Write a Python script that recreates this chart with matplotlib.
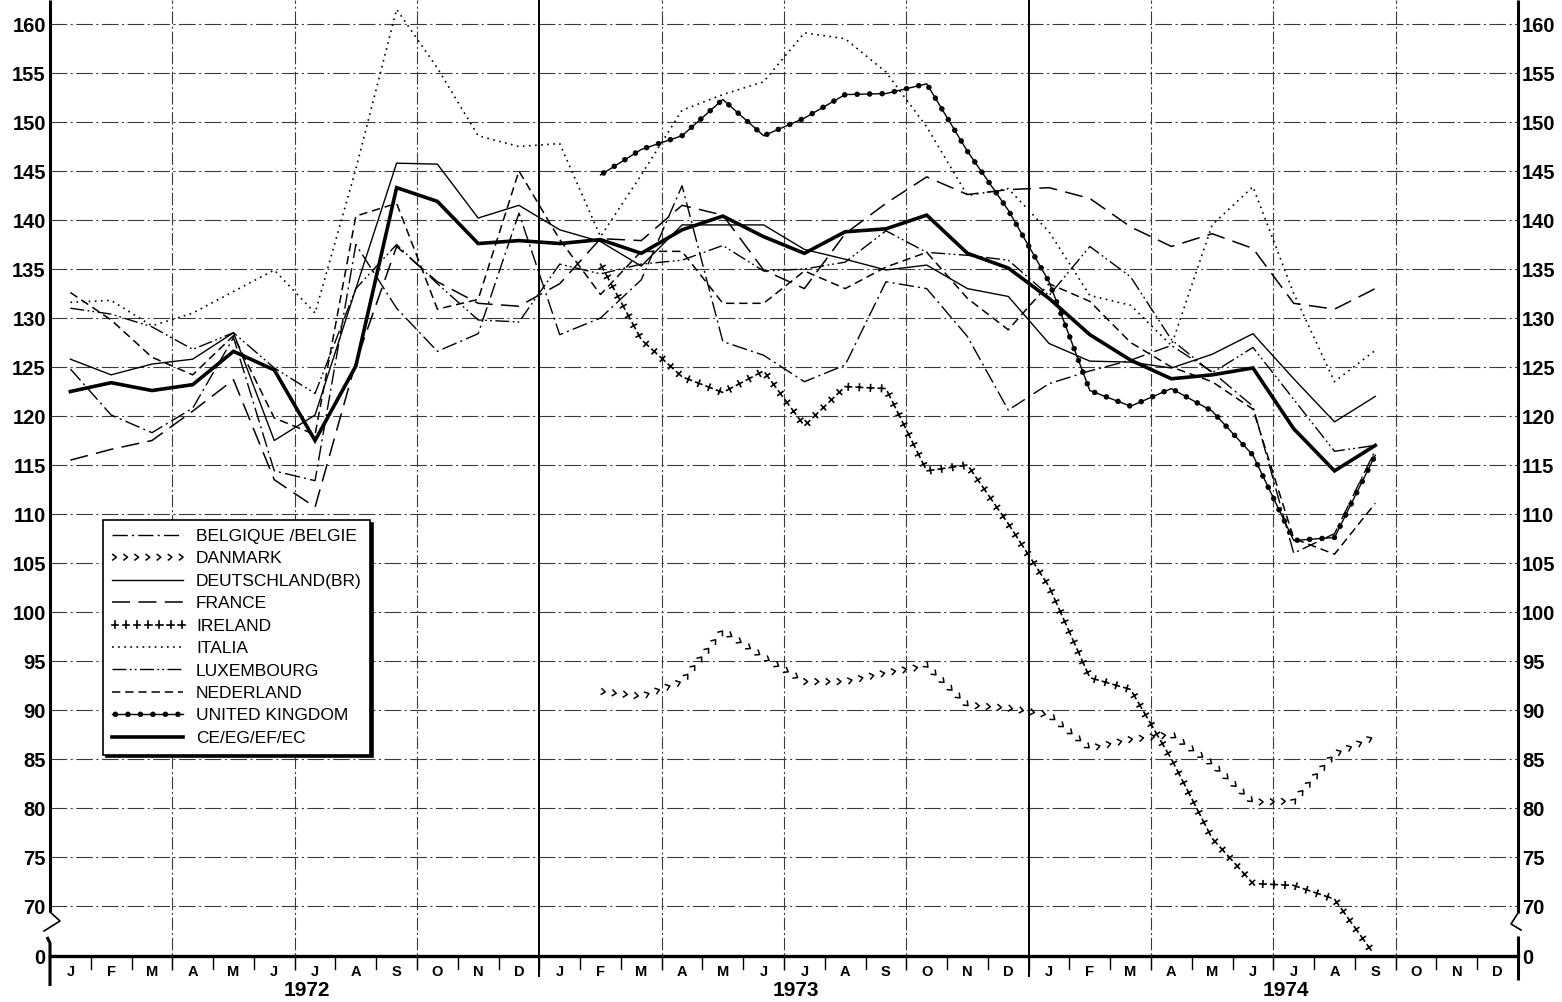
import numpy as np
import matplotlib
matplotlib.use('Agg')
import matplotlib.pyplot as plt
from matplotlib.patheffects import AbstractPathEffect, Normal
from matplotlib.path import Path
from matplotlib.transforms import Affine2D, blended_transform_factory

plt.rcParams['font.family'] = ['Liberation Sans', 'DejaVu Sans']
plt.rcParams['lines.scale_dashes'] = False

# ---------------- data (J 1972 ... S 1974) ----------------
month_letters = ['J', 'F', 'M', 'A', 'M', 'J', 'J', 'A', 'S', 'O', 'N', 'D']
year_labels = ['1972', '1973', '1974']
y_ticks = [0] + list(range(70, 161, 5))

ec = [122.5, 123.4, 122.6, 123.2, 126.6, 124.7, 117.5, 125.1, 143.3, 141.9, 137.6, 137.9,
      137.6, 138.0, 136.6, 139.0, 140.4, 138.3, 136.6, 138.8, 139.1, 140.5, 136.6, 135.1,
      132.0, 128.3, 125.7, 123.8, 124.2, 124.9, 118.7, 114.4, 117.0]
deutschland = [125.8, 124.2, 125.3, 125.8, 128.5, 117.5, 120.1, 133.0, 145.8, 145.7, 140.2, 141.5,
               139.0, 137.8, 135.3, 139.5, 139.5, 139.5, 137.0, 136.0, 134.9, 135.4, 133.0, 132.2,
               127.4, 125.6, 125.5, 124.9, 126.3, 128.4, 123.8, 119.4, 122.0]
france = [115.5, 116.6, 117.5, 120.5, 123.7, 113.5, 110.7, 125.5, 137.3, 133.7, 131.5, 131.2,
          133.5, 138.1, 137.9, 141.5, 140.5, 134.9, 133.0, 138.6, 141.7, 144.4, 142.6, 143.1,
          143.3, 142.2, 139.3, 137.3, 138.6, 137.1, 131.5, 130.9, 133.0]
italia = [131.6, 131.8, 129.2, 130.5, 132.7, 134.9, 130.5, 145.2, 161.5, 155.5, 148.6, 147.5,
          147.8, 138.3, 144.6, 151.2, 152.8, 154.1, 159.1, 158.5, 155.1, 149.5, 142.5, 143.2,
          138.8, 132.3, 131.3, 127.2, 139.5, 143.4, 132.5, 123.5, 126.7]
nederland = [132.6, 129.8, 126.0, 124.2, 128.2, 119.8, 118.1, 140.4, 141.7, 130.9, 131.9, 145.0,
             138.0, 132.4, 136.8, 136.8, 131.5, 131.5, 134.8, 133.0, 135.2, 136.7, 132.0, 128.8,
             133.5, 131.7, 127.5, 125.0, 123.5, 120.7, 107.5, 105.9, 111.1]
belgique = [124.8, 120.1, 118.3, 120.8, 128.0, 114.4, 113.4, 137.5, 131.0, 126.6, 128.4, 140.7,
            128.3, 130.0, 133.9, 143.5, 127.6, 126.2, 123.5, 125.2, 133.7, 133.0, 128.1, 120.6,
            123.3, 124.6, 125.7, 127.2, 124.5, 121.0, 106.0, 108.0, 116.5]
luxembourg = [131.0, 130.4, 129.1, 126.8, 128.5, 124.9, 122.3, 133.0, 137.5, 133.5, 129.8, 129.6,
              135.5, 134.5, 135.5, 135.9, 137.4, 134.8, 135.0, 135.7, 138.9, 136.7, 136.4, 135.9,
              132.3, 137.3, 134.2, 127.8, 124.4, 127.0, 121.7, 116.4, 117.0]
# series starting February 1973
uk = [144.6, 147.2, 148.6, 152.3, 148.6, 150.4, 152.8, 152.9, 153.9, 147.0, 141.0,
      133.7, 122.6, 121.0, 122.8, 120.5, 116.0, 107.3, 107.6, 116.0]
danmark = [91.9, 91.4, 92.9, 98.1, 95.4, 92.9, 92.9, 93.8, 94.5, 90.5, 90.2,
           89.5, 86.1, 87.0, 87.5, 84.5, 80.6, 80.7, 85.5, 87.3]
ireland = [135.5, 127.8, 124.0, 122.4, 124.6, 119.0, 123.0, 122.8, 114.4, 115.0, 109.0,
           102.6, 93.3, 92.1, 85.0, 76.9, 72.3, 72.1, 70.7, 0.0]
late_start = 13  # index of February 1973

# ---------------- helpers ----------------
class MarkersAlong(AbstractPathEffect):
    """Draw small glyphs at regular distances along the drawn line."""
    def __init__(self, kind, spacing, size, lw=1.0):
        super().__init__((0, 0))
        self.kind, self.spacing, self.size, self.lw = kind, spacing, size, lw

    def draw_path(self, renderer, gc, tpath, affine, rgbFace=None):
        pts = affine.transform(tpath.vertices)
        pts = pts[np.all(np.isfinite(pts), axis=1)]
        if len(pts) < 2:
            return
        dxy = np.diff(pts, axis=0)
        d = np.hypot(dxy[:, 0], dxy[:, 1])
        cum = np.concatenate([[0], np.cumsum(d)])
        sp = renderer.points_to_pixels(self.spacing)
        sz = renderer.points_to_pixels(self.size)
        s = np.arange(sp * 0.3, cum[-1] + 1e-6, sp)
        xs = np.interp(s, cum, pts[:, 0])
        ys = np.interp(s, cum, pts[:, 1])
        seg = np.clip(np.searchsorted(cum, s, side='right') - 1, 0, len(d) - 1)
        ang = np.arctan2(dxy[seg, 1], dxy[seg, 0])
        gc0 = renderer.new_gc()
        gc0.copy_properties(gc)
        gc0.set_dashes(0, None)
        gc0.set_linewidth(self.lw)
        if self.kind == 'plus':
            mp = Path([(-0.5, 0), (0.5, 0), (0, -0.5), (0, 0.5)],
                      [Path.MOVETO, Path.LINETO, Path.MOVETO, Path.LINETO])
            face = None
        elif self.kind == 'chevron':
            mp = Path([(-0.4, 0.5), (0.25, 0), (-0.4, -0.5)],
                      [Path.MOVETO, Path.LINETO, Path.LINETO])
            face = None
        else:
            mp = Path.unit_circle()
            face = (0, 0, 0, 1)
        for x, y, a in zip(xs, ys, ang):
            sc = sz * (0.5 if self.kind == 'dot' else 1.0)
            tr = Affine2D().scale(sc).rotate(a).translate(x, y)
            renderer.draw_path(gc0, mp, tr, face)
        gc0.restore()


ZERO_POS = 64.9


def fwd(v):
    v = np.asarray(v, float)
    return np.where(v >= 70, v, ZERO_POS + v * (70 - ZERO_POS) / 70)


def inv(u):
    u = np.asarray(u, float)
    return np.where(u >= 70, u, (u - ZERO_POS) * 70 / (70 - ZERO_POS))


# ---------------- figure ----------------
W, H = 1562, 1002
fig = plt.figure(figsize=(W / 100, H / 100), dpi=100)
ax = fig.add_axes([50 / W, 46 / H, 1468 / W, 956 / H])
ax.set_yscale('function', functions=(fwd, inv))
ax.set_xlim(0, 36)
ax.set_ylim(0, 162.45)
for s in ax.spines.values():
    s.set_visible(False)
ax.set_xticks([])
ax.set_yticks(y_ticks)
ax.set_yticklabels([str(t) for t in y_ticks], fontweight='bold')
ax.tick_params(axis='y', length=0, pad=3, labelsize=14.5,
               labelleft=True, labelright=True)


def fr(py):
    return (956 - py) / 956.0


bt = blended_transform_factory(ax.transData, ax.transAxes)
grid_kw = dict(color='#3a3a3a', lw=0.8, zorder=1)
for v in range(70, 161, 5):
    ax.plot([0, 36], [v, v], dashes=(12, 2.5, 1.5, 2.5), **grid_kw)
for q in range(3, 36, 3):
    if q % 12 == 0:
        ax.plot([q, q], [fr(976), 1], transform=bt, color='k', lw=1.4,
                clip_on=False, zorder=1)
    else:
        ax.plot([q, q], [fr(970), 1], transform=bt, dashes=(9, 2, 1.5, 2),
                clip_on=False, **grid_kw)
for k in range(1, 36):
    ax.plot([k, k], [fr(956), fr(969)], transform=bt, color='k', lw=1.0,
            clip_on=False, zorder=2)
ax.plot([0, 36], [0, 0], color='k', lw=2.4, clip_on=False, zorder=3)

# axes lines with break marks
ax_kw = dict(transform=ax.transAxes, color='k', lw=2.2, clip_on=False, zorder=4,
             solid_capstyle='butt')
px = 1 / 1468
ax.plot([0, 0], [fr(912), 1], **ax_kw)
ax.plot([0, 10 * px, -6 * px], [fr(912), fr(921), fr(931)], color='k', lw=1.2,
        transform=ax.transAxes, clip_on=False)
ax.plot([-3 * px, 0, 0], [fr(937), fr(943), fr(986)], **ax_kw)
ax.plot([1, 1], [fr(913), 1], **ax_kw)
ax.plot([1, 1 - 7 * px, 1 + 3 * px], [fr(913), fr(924), fr(930)], color='k', lw=1.2,
        transform=ax.transAxes, clip_on=False)
ax.plot([1, 1], [fr(936), fr(980)], **ax_kw)

# month & year labels
for i in range(36):
    ax.text(i + 0.5, fr(972), month_letters[i % 12], transform=bt, ha='center',
            va='center', fontsize=10.5, fontweight='bold')
for j, yl in enumerate(year_labels):
    ax.text(12 * j + 6.3, fr(991), yl, transform=bt, ha='center', va='center',
            fontsize=15, fontweight='bold')

# ---------------- series ----------------
x_full = np.arange(len(ec)) + 0.5
x_late = np.arange(late_start, late_start + len(uk)) + 0.5

thin = 1.0
lines = []
lines.append(ax.plot(x_full, belgique, color='k', lw=thin, dashes=(11, 3, 1.5, 3),
                     label='BELGIQUE /BELGIE', zorder=5)[0])
lines.append(ax.plot(x_late, danmark, color='k', lw=thin, label='DANMARK', zorder=5,
                     path_effects=[MarkersAlong('chevron', 8.0, 4.0, 1.1)])[0])
lines.append(ax.plot(x_full, deutschland, color='k', lw=thin,
                     label='DEUTSCHLAND(BR)', zorder=5)[0])
lines.append(ax.plot(x_full, france, color='k', lw=1.1, dashes=(13, 6),
                     label='FRANCE', zorder=5)[0])
lines.append(ax.plot(x_late, ireland, color='k', lw=thin, label='IRELAND', zorder=5,
                     path_effects=[MarkersAlong('plus', 8.0, 4.6, 1.2)])[0])
lines.append(ax.plot(x_full, italia, color='k', lw=1.2, dashes=(1.2, 3.2),
                     label='ITALIA', zorder=5)[0])
lines.append(ax.plot(x_full, luxembourg, color='k', lw=thin,
                     dashes=(10, 2.5, 1.3, 2.2, 1.3, 2.5),
                     label='LUXEMBOURG', zorder=5)[0])
lines.append(ax.plot(x_full, nederland, color='k', lw=1.1, dashes=(6, 3.5),
                     label='NEDERLAND', zorder=5)[0])
lines.append(ax.plot(x_late, uk, color='k', lw=thin, label='UNITED KINGDOM', zorder=6,
                     path_effects=[Normal(), MarkersAlong('dot', 9.0, 3.4, 0.5)])[0])
lines.append(ax.plot(x_full, ec, color='k', lw=2.6, label='CE/EG/EF/EC', zorder=7,
                     solid_joinstyle='miter')[0])

leg = ax.legend(handles=lines, loc='upper left', bbox_to_anchor=(53 / 1468, fr(520)),
                borderaxespad=0, fontsize=12.5, handlelength=4.1, handletextpad=0.75,
                labelspacing=0.42, borderpad=0.5, fancybox=False, framealpha=1,
                edgecolor='k', shadow={'color': 'k', 'alpha': 1})
leg.get_frame().set_linewidth(1.2)
leg.set_zorder(10)

fig.savefig('out.png', dpi=100)
